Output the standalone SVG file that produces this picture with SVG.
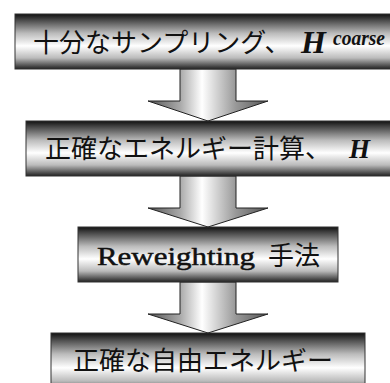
<svg xmlns="http://www.w3.org/2000/svg" width="390" height="383" viewBox="0 0 390 383">
<defs>
<linearGradient id="boxGrad" x1="0" y1="0" x2="0" y2="1">
<stop offset="0" stop-color="#111"/>
<stop offset="0.1" stop-color="#444"/>
<stop offset="0.35" stop-color="#bbb"/>
<stop offset="0.58" stop-color="#fff"/>
<stop offset="0.8" stop-color="#bbb"/>
<stop offset="1" stop-color="#222"/>
</linearGradient>
<linearGradient id="arrowGrad" x1="0" y1="0" x2="1" y2="0">
<stop offset="0" stop-color="#555"/>
<stop offset="0.27" stop-color="#aaa"/>
<stop offset="0.45" stop-color="#fff"/>
<stop offset="0.73" stop-color="#999"/>
<stop offset="1" stop-color="#555"/>
</linearGradient>
</defs>
<style>
.box{fill:url(#boxGrad);stroke:#333;stroke-width:1}
.arrow{fill:url(#arrowGrad);stroke:#222;stroke-width:1}
.t{font-family:"Liberation Serif","Noto Sans CJK JP",serif;font-size:26px;fill:#111}
.h{font-family:"Liberation Serif",serif;font-weight:bold;font-style:italic;fill:#111}
</style>
<g id="connectors">
<polygon class="arrow" points="180,69 236,69 236,101 268,101 208,121 148,101 180,101"/>
<polygon class="arrow" points="180,176 236,176 236,208 268,208 208,227 148,208 180,208"/>
<polygon class="arrow" points="180,282 236,282 236,314 268,314 208,333 148,314 180,314"/>
</g>
<g id="node1">
<rect class="box" x="15" y="14" width="380" height="55"/>
<text class="t" x="33" y="52">十分なサンプリング、</text>
<text class="h" x="301" y="53" font-size="32">H</text>
<text class="h" x="333" y="45" font-size="20" textLength="52" lengthAdjust="spacingAndGlyphs">coarse</text>
</g>
<g id="node2">
<rect class="box" x="26" y="121" width="368" height="55"/>
<text class="t" x="45" y="158">正確なエネルギー計算、</text>
<text class="h" x="349" y="158" font-size="27">H</text>
</g>
<g id="node3">
<rect class="box" x="78" y="227" width="260" height="55"/>
<text class="t" x="97" y="265" font-size="30" stroke="#111" stroke-width="0.5" textLength="158" lengthAdjust="spacingAndGlyphs">Reweighting</text>
<text class="t" x="268" y="265">手法</text>
</g>
<g id="node4">
<rect class="box" x="51" y="333" width="314" height="60"/>
<text class="t" x="73" y="370" font-size="27">正確な自由エネルギー</text>
</g>
</svg>
